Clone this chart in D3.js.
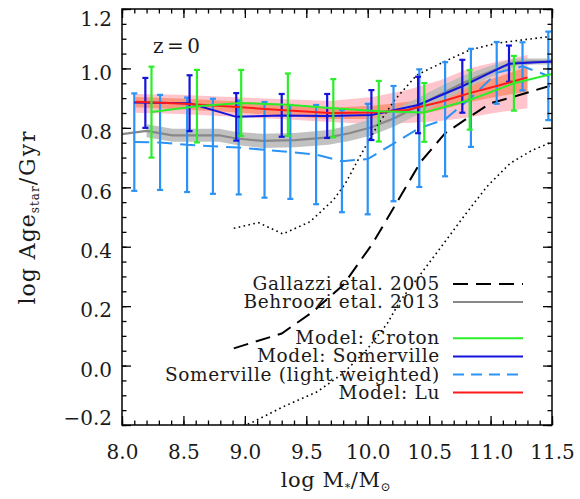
<!DOCTYPE html>
<html><head><meta charset="utf-8">
<script src="https://cdn.jsdelivr.net/npm/d3@7"></script>
<style>body{margin:0;background:#fff}svg{display:block}text{font-family:"DejaVu Serif",serif}</style>
</head><body><svg id="c" width="580" height="499"></svg>
<script>
// ---- data ----
const xTicks = [8.0, 8.5, 9.0, 9.5, 10.0, 10.5, 11.0, 11.5];
const yTicks = [-0.2, 0.0, 0.2, 0.4, 0.6, 0.8, 1.0, 1.2];

// Somerville (light weighted): dashed line + error bars
const lightX    = [8.10,8.31,8.53,8.74,8.95,9.16,9.37,9.58,9.79,10.00,10.21,10.42,10.63,10.84,11.05,11.26,11.47];
const lightMean = [0.752,0.751,0.743,0.738,0.734,0.726,0.719,0.710,0.688,0.695,0.747,0.799,0.829,0.901,0.985,1.007,0.975];
const lightErr  = [0.164,0.160,0.159,0.160,0.158,0.161,0.158,0.167,0.172,0.186,0.194,0.198,0.192,0.165,0.104,0.081,0.149];

// Model: Somerville
const blueX    = [8.19,8.55,8.93,9.30,9.67,10.03,10.41,10.77,11.15];
const blueMean = [0.884,0.883,0.837,0.842,0.840,0.843,0.877,0.940,1.016];
const blueErr  = [0.084,0.094,0.080,0.072,0.074,0.084,0.095,0.089,0.061];
const blueLineX = [8.10,8.55,8.93,9.30,9.67,10.03,10.41,10.77,11.15,11.50];
const blueLineY = [0.885,0.883,0.837,0.842,0.840,0.843,0.877,0.940,1.016,1.023];

// Model: Croton
const greenX    = [8.24,8.61,8.97,9.35,9.72,10.09,10.46,10.83,11.19];
const greenMean = [0.853,0.873,0.884,0.878,0.866,0.856,0.852,0.894,0.950];
const greenErr  = [0.153,0.122,0.111,0.105,0.098,0.102,0.099,0.100,0.092];
const greenLineX = [8.24,8.61,8.97,9.35,9.72,10.09,10.46,10.83,11.19,11.50];
const greenLineY = [0.853,0.873,0.884,0.878,0.866,0.856,0.852,0.894,0.950,0.981];

// Model: Lu (median with two bands)
const luX       = [8.11,8.47,8.88,9.29,9.69,10.04,10.32,10.59,10.83,11.08,11.30];
const luMean    = [0.888,0.882,0.872,0.860,0.850,0.852,0.860,0.887,0.917,0.944,0.970];
const luOuterHi = [0.914,0.911,0.904,0.897,0.890,0.904,0.927,0.960,1.001,1.025,1.045];
const luOuterLo = [0.851,0.847,0.838,0.830,0.820,0.813,0.816,0.823,0.836,0.853,0.866];
const luInnerHi = [0.904,0.899,0.890,0.880,0.868,0.874,0.887,0.911,0.944,0.974,1.006];
const luInnerLo = [0.869,0.863,0.853,0.842,0.830,0.830,0.836,0.860,0.887,0.907,0.922];

// Behroozi et al. 2013
const behX    = [8.00,8.20,8.41,8.79,8.92,9.14,9.41,9.68,9.85,10.03,10.22,10.40,10.59,10.78,10.96,11.10,11.22,11.36,11.50];
const behMean = [0.779,0.790,0.775,0.775,0.765,0.756,0.759,0.768,0.782,0.802,0.833,0.871,0.912,0.952,0.983,1.006,1.021,1.023,1.023];
const behErr  = [null,0.022,0.022,0.022,0.022,0.024,0.024,0.025,0.026,0.028,0.028,0.028,0.027,0.024,0.020,0.016,0.012,0.010,0.010];

// Gallazzi et al. 2005: median (dashed) and percentiles (dotted)
const galX   = [8.91,9.30,9.55,9.80,10.04,10.24,10.43,10.63,10.81,11.00,11.18,11.48];
const galMed = [0.058,0.108,0.180,0.271,0.411,0.551,0.685,0.782,0.832,0.883,0.904,0.941];
const galHiX = [8.91,9.11,9.31,9.53,9.72,9.82,9.95,10.09,10.22,10.40,10.65,10.83,11.05,11.26,11.48];
const galHi  = [0.462,0.481,0.443,0.484,0.557,0.614,0.714,0.815,0.894,0.978,1.028,1.062,1.085,1.096,1.107];
const galLoX = [8.91,9.07,9.31,9.59,9.80,9.99,10.16,10.26,10.59,10.78,10.97,11.16,11.34,11.50];
const galLo  = [-0.215,-0.189,-0.139,-0.088,-0.026,0.052,0.142,0.215,0.395,0.501,0.602,0.681,0.725,0.752];

const legendLabels = ["Gallazzi etal. 2005","Behroozi etal. 2013","","Model: Croton","Model: Somerville","Somerville (light weighted)","Model: Lu"];

// ---- colours ----
const C = {gal:"#000", beh:"#888888", behBand:"#bababa", green:"#2aee2a", blue:"#1414dc",
           light:"#2a93f5", red:"#ff1a1a", pink:"#ffc4cc", salmon:"#fb8f72"};

// ---- drawing ----
const svg = d3.select('#c');
const x = d3.scaleLinear().domain([8, 11.5]).range([122, 552]);
const y = d3.scaleLinear().domain([-0.2, 1.2]).range([425, 9]);

svg.append('defs').append('clipPath').attr('id','clip').append('rect')
  .attr('x',x(8)).attr('y',y(1.2)).attr('width',x(11.5)-x(8)).attr('height',y(-0.2)-y(1.2));
const plot = svg.append('g').attr('clip-path','url(#clip)');

const areaOf = (xs, lo, hi) => d3.area().defined((d,i)=>lo[i]!=null && hi[i]!=null)
  .x((d,i)=>x(xs[i])).y0((d,i)=>y(lo[i])).y1((d,i)=>y(hi[i]));
const lineOf = (xs, ys) => d3.line().x((d,i)=>x(xs[i])).y((d,i)=>y(ys[i]));

// Lu bands
plot.append('path').datum(luX).attr('d', areaOf(luX, luOuterLo, luOuterHi)).attr('fill', C.pink);
plot.append('path').datum(luX).attr('d', areaOf(luX, luInnerLo, luInnerHi)).attr('fill', C.salmon).attr('opacity',0.85);

// Behroozi band + line
const behLo = behMean.map((m,i)=>behErr[i]==null?null:m-behErr[i]);
const behHi = behMean.map((m,i)=>behErr[i]==null?null:m+behErr[i]);
plot.append('path').datum(behX).attr('d', areaOf(behX, behLo, behHi)).attr('fill', C.behBand).attr('opacity',0.9);
plot.append('path').datum(behX).attr('d', lineOf(behX, behMean)).attr('fill','none').attr('stroke',C.beh).attr('stroke-width',2.2);

// Gallazzi
plot.append('path').datum(galHiX).attr('d', lineOf(galHiX, galHi)).attr('fill','none').attr('stroke','#000')
  .attr('stroke-width',1.6).attr('stroke-dasharray','1.6,3.4');
plot.append('path').datum(galLoX).attr('d', lineOf(galLoX, galLo)).attr('fill','none').attr('stroke','#000')
  .attr('stroke-width',1.6).attr('stroke-dasharray','1.6,3.4');
plot.append('path').datum(galX).attr('d', lineOf(galX, galMed)).attr('fill','none').attr('stroke','#000')
  .attr('stroke-width',2).attr('stroke-dasharray','15,8');

// error bars helper
function errBars(xs, mean, err, color, w) {
  const g = plot.append('g').attr('stroke', color).attr('stroke-width', w);
  xs.forEach((xv,i)=>{
    const x0 = x(xv), yt = y(mean[i]+err[i]), yb = y(mean[i]-err[i]);
    g.append('line').attr('x1',x0).attr('x2',x0).attr('y1',yt).attr('y2',yb);
    g.append('line').attr('x1',x0-3).attr('x2',x0+3).attr('y1',yt).attr('y2',yt);
    g.append('line').attr('x1',x0-3).attr('x2',x0+3).attr('y1',yb).attr('y2',yb);
  });
}

// Somerville light weighted
plot.append('path').datum(lightX).attr('d', lineOf(lightX, lightMean)).attr('fill','none')
  .attr('stroke',C.light).attr('stroke-width',2).attr('stroke-dasharray','15,8');
errBars(lightX, lightMean, lightErr, C.light, 2.2);

// Somerville
errBars(blueX, blueMean, blueErr, C.blue, 2.2);
plot.append('path').datum(blueLineX).attr('d', lineOf(blueLineX, blueLineY)).attr('fill','none')
  .attr('stroke',C.blue).attr('stroke-width',2);

// Lu line
plot.append('path').datum(luX).attr('d', lineOf(luX, luMean)).attr('fill','none')
  .attr('stroke',C.red).attr('stroke-width',2);

// Croton
errBars(greenX, greenMean, greenErr, C.green, 2.2);
plot.append('path').datum(greenLineX).attr('d', lineOf(greenLineX, greenLineY)).attr('fill','none')
  .attr('stroke',C.green).attr('stroke-width',2);

// ---- axes ----
const xMinor = d3.range(80, 116).map(v=>v/10);
const yMinor = d3.range(-4, 25).map(v=>v/20);
function styleAxis(g){ g.select('.domain').remove(); g.selectAll('.tick line').attr('stroke','#000').attr('stroke-width',1.3);
  g.attr('font-family','DejaVu Serif').attr('font-size',20); g.selectAll('text').attr('fill','#1a1a1a'); }

// bottom
svg.append('g').attr('transform',`translate(0,${y(-0.2)})`)
  .call(d3.axisBottom(x).tickValues(xMinor).tickSize(-4.5).tickFormat('')).call(styleAxis);
svg.append('g').attr('transform',`translate(0,${y(-0.2)})`)
  .call(d3.axisBottom(x).tickValues(xTicks).tickSize(-9).tickPadding(20).tickFormat(d3.format('.1f'))).call(styleAxis);
// top
svg.append('g').attr('transform',`translate(0,${y(1.2)})`)
  .call(d3.axisTop(x).tickValues(xMinor).tickSize(-4.5).tickFormat('')).call(styleAxis);
svg.append('g').attr('transform',`translate(0,${y(1.2)})`)
  .call(d3.axisTop(x).tickValues(xTicks).tickSize(-9).tickFormat('')).call(styleAxis);
// left
svg.append('g').attr('transform',`translate(${x(8)},0)`)
  .call(d3.axisLeft(y).tickValues(yMinor).tickSize(-4.5).tickFormat('')).call(styleAxis);
const yl = svg.append('g').attr('transform',`translate(${x(8)},0)`)
  .call(d3.axisLeft(y).tickValues(yTicks).tickSize(-9).tickPadding(10).tickFormat(d3.format('.1f'))).call(styleAxis);
yl.selectAll('.tick text').attr('dy', d => {
  const c = Math.max(18.3, Math.min(416.7, y(d) + 3.5));
  return (c + 7.3 - y(d)) + 'px';
}).text(d => d3.format('.1f')(d).replace('-', '\u2212'));
// right
svg.append('g').attr('transform',`translate(${x(11.5)},0)`)
  .call(d3.axisRight(y).tickValues(yMinor).tickSize(-4.5).tickFormat('')).call(styleAxis);
svg.append('g').attr('transform',`translate(${x(11.5)},0)`)
  .call(d3.axisRight(y).tickValues(yTicks).tickSize(-9).tickFormat('')).call(styleAxis);

// frame
svg.append('rect').attr('x',x(8)).attr('y',y(1.2)).attr('width',x(11.5)-x(8)).attr('height',y(-0.2)-y(1.2))
  .attr('fill','none').attr('stroke','#000').attr('stroke-width',1.5);

// ---- labels ----
svg.append('text').attr('x',153).attr('y',53).attr('font-size',20).attr('letter-spacing','3.5px').attr('fill','#1a1a1a').text('z=0');

const xt = svg.append('text').attr('x',336).attr('y',487).attr('text-anchor','middle').attr('font-size',21).attr('fill','#1a1a1a').attr('letter-spacing','0.6px');
xt.append('tspan').text('log  M');
xt.append('tspan').attr('font-size',11).attr('dy',4).text('*');
xt.append('tspan').attr('dy',-4).text('/M');
xt.append('tspan').attr('font-size',12).attr('dy',4).text('\u2299');

const yt = svg.append('text').attr('transform','translate(35,217) rotate(-90)').attr('text-anchor','middle').attr('font-size',22).attr('fill','#1a1a1a');
yt.append('tspan').attr('letter-spacing','1px').text('log  Age');
yt.append('tspan').attr('font-size',12).attr('dy',4).attr('letter-spacing','1px').text('star');
yt.append('tspan').attr('dy',-4).attr('letter-spacing','2px').text('/Gyr');

// ---- legend ----
const legStyles = [
  {c:'#000', dash:'15,8', w:2},
  {c:C.beh, dash:null, w:2},
  null,
  {c:C.green, dash:null, w:2},
  {c:C.blue, dash:null, w:2},
  {c:C.light, dash:'11,7', w:2},
  {c:C.red, dash:null, w:2}
];
const legY0 = 284, legDY = 18.1;
legendLabels.forEach((lab,i)=>{
  if(!lab) return;
  const yy = legY0 + i*legDY;
  svg.append('text').attr('x',440).attr('y',yy+6).attr('text-anchor','end').attr('font-size',18.5)
    .attr('letter-spacing','0.7px').attr('fill','#1a1a1a').text(lab);
  const s = legStyles[i];
  svg.append('line').attr('x1',453).attr('x2',523).attr('y1',yy).attr('y2',yy)
    .attr('stroke',s.c).attr('stroke-width',s.w).attr('stroke-dasharray',s.dash);
});
</script></body></html>
